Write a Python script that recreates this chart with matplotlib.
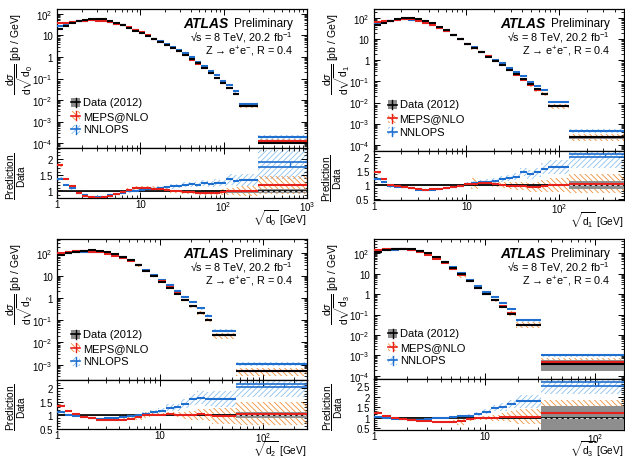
import numpy as np
import matplotlib
matplotlib.use("Agg")
import matplotlib.pyplot as plt
from matplotlib.patches import Rectangle
from matplotlib.lines import Line2D
from matplotlib.ticker import FixedLocator, LogLocator, MultipleLocator, FuncFormatter, NullFormatter

plt.rcParams['font.family'] = ['Liberation Sans', 'DejaVu Sans']
plt.rcParams['mathtext.fontset'] = 'custom'
plt.rcParams['mathtext.rm'] = 'Liberation Sans'
plt.rcParams['mathtext.it'] = 'Liberation Sans:italic'
plt.rcParams['mathtext.bf'] = 'Liberation Sans:bold'
plt.rcParams['hatch.linewidth'] = 0.6

# ---------------- sqrt(d0) ----------------
D0_EDGES = [1, 1.19, 1.41, 1.68, 2, 2.38, 2.83, 3.36, 4, 4.76, 5.66, 6.73, 8, 9.51, 11.3, 13.5,
            16, 19, 22.6, 26.9, 32, 38.1, 45.3, 53.8, 64, 76.1, 90.5, 108, 128, 152, 256, 1000]
D0_DATA = [20, 28, 37, 47, 55, 60, 61, 57, 49, 39, 31, 22.5, 17, 12.6, 9.1, 6.6, 4.8, 3.6, 2.6,
           1.9, 1.28, 0.78, 0.5, 0.31, 0.19, 0.11, 0.063, 0.036, 0.019, 0.005, 1.0e-4]
D0_MEPS_RATIO = [1.8, 1.38, 1.17, 0.95, 0.87, 0.83, 0.81, 0.82, 0.86, 0.92, 0.98, 1.05, 1.1, 1.1,
                 1.1, 1.08, 1.07, 1.05, 1.0, 1.0, 0.98, 0.97, 0.96, 0.95, 0.96, 0.96, 0.98, 1.0,
                 1.0, 1.0, 1.2]
D0_NNLOPS_RATIO = [1.38, 1.2, 1.09, 0.95, 0.88, 0.84, 0.82, 0.84, 0.88, 0.92, 0.96, 1.0, 1.02,
                   1.05, 1.07, 1.08, 1.1, 1.12, 1.15, 1.17, 1.2, 1.22, 1.2, 1.25, 1.22, 1.27,
                   1.25, 1.37, 1.33, 1.35, 1.82]
D0_DATA_UNC = [0.03, 0.025, 0.02, 0.02, 0.02, 0.02, 0.02, 0.02, 0.02, 0.02, 0.02, 0.02, 0.02,
               0.02, 0.02, 0.02, 0.02, 0.02, 0.02, 0.02, 0.025, 0.025, 0.025, 0.03, 0.03, 0.03,
               0.03, 0.035, 0.035, 0.04, 0.06]
D0_MEPS_UNC = [0.05, 0.04, 0.04, 0.03, 0.03, 0.03, 0.03, 0.03, 0.03, 0.03, 0.04, 0.04, 0.05,
               0.06, 0.08, 0.07, 0.05, 0.05, 0.05, 0.05, 0.05, 0.06, 0.06, 0.07, 0.07, 0.08,
               0.08, 0.1, 0.12, 0.15, 0.27]
D0_NNLOPS_UNC = [0.05, 0.04, 0.04, 0.03, 0.03, 0.03, 0.03, 0.03, 0.03, 0.04, 0.04, 0.04, 0.05,
                 0.05, 0.05, 0.06, 0.06, 0.06, 0.07, 0.07, 0.08, 0.08, 0.08, 0.09, 0.09, 0.1,
                 0.1, 0.17, 0.17, 0.18, 0.45]
D0_NNLOPS_LAST_STAT = 0.065

# ---------------- sqrt(d1) ----------------
D1_EDGES = [1, 1.19, 1.41, 1.68, 2, 2.38, 2.83, 3.36, 4, 4.76, 5.66, 6.73, 8, 9.51, 11.3, 13.5,
            16, 19, 22.6, 26.9, 32, 38.1, 45.3, 53.8, 64, 76.1, 128, 500]
D1_DATA = [48, 62, 78, 92, 100, 100, 90, 72, 58, 40, 28, 16.6, 10.5, 6.2, 3.9, 2.4, 1.5, 0.9,
           0.6, 0.36, 0.22, 0.13, 0.072, 0.042, 0.026, 0.0065, 2.2e-4]
D1_MEPS_RATIO = [1.45, 1.22, 1.0, 0.96, 0.93, 0.9, 0.86, 0.84, 0.85, 0.87, 0.9, 0.94, 0.98, 1.02,
                 1.05, 1.07, 1.07, 1.04, 1.0, 0.97, 0.96, 0.95, 0.92, 0.93, 0.96, 1.0, 1.05]
D1_NNLOPS_RATIO = [1.2, 1.1, 0.95, 0.93, 0.92, 0.88, 0.84, 0.82, 0.83, 0.86, 0.9, 0.94, 0.98,
                   1.03, 1.07, 1.1, 1.12, 1.15, 1.2, 1.25, 1.3, 1.45, 1.38, 1.45, 1.58, 1.65, 2.05]
D1_DATA_UNC = [0.03, 0.025, 0.02, 0.02, 0.02, 0.02, 0.02, 0.02, 0.02, 0.02, 0.02, 0.02, 0.02,
               0.02, 0.02, 0.02, 0.025, 0.025, 0.025, 0.03, 0.03, 0.03, 0.035, 0.035, 0.04,
               0.05, 0.13]
D1_MEPS_UNC = [0.05, 0.04, 0.04, 0.03, 0.03, 0.03, 0.03, 0.03, 0.03, 0.03, 0.04, 0.04, 0.05,
               0.06, 0.2, 0.08, 0.08, 0.1, 0.12, 0.12, 0.13, 0.14, 0.15, 0.16, 0.2, 0.25, 0.35]
D1_NNLOPS_UNC = [0.05, 0.04, 0.04, 0.03, 0.03, 0.03, 0.03, 0.03, 0.03, 0.04, 0.04, 0.04, 0.05,
                 0.06, 0.07, 0.08, 0.09, 0.1, 0.11, 0.12, 0.13, 0.14, 0.15, 0.16, 0.2, 0.25, 0.45]
D1_NNLOPS_LAST_STAT = 0.05

# ---------------- sqrt(d2) ----------------
D2_EDGES = [1, 1.19, 1.41, 1.68, 2, 2.38, 2.83, 3.36, 4, 4.76, 5.66, 6.73, 8, 9.51, 11.3, 13.5,
            16, 19, 22.6, 26.9, 32, 53.8, 265]
D2_DATA = [80, 98, 115, 128, 133, 130, 115, 95, 70, 50, 31, 16.5, 9.5, 5.3, 2.9, 1.55, 0.8, 0.42,
           0.21, 0.1, 0.021, 5.0e-4]
D2_MEPS_RATIO = [1.35, 1.15, 1.05, 0.95, 0.88, 0.84, 0.82, 0.82, 0.84, 0.87, 0.93, 1.0, 1.02,
                 1.02, 1.05, 1.02, 1.0, 1.0, 1.03, 1.0, 0.98, 1.05]
D2_NNLOPS_RATIO = [1.1, 1.02, 0.97, 0.92, 0.9, 0.87, 0.88, 0.9, 0.93, 0.96, 1.0, 1.05, 1.1, 1.17,
                   1.28, 1.3, 1.42, 1.58, 1.65, 1.6, 1.6, 2.1]
D2_DATA_UNC = [0.03, 0.025, 0.02, 0.02, 0.02, 0.02, 0.02, 0.02, 0.02, 0.02, 0.02, 0.02, 0.02,
               0.025, 0.025, 0.03, 0.03, 0.035, 0.035, 0.04, 0.05, 0.1]
D2_MEPS_UNC = [0.05, 0.04, 0.04, 0.03, 0.03, 0.03, 0.03, 0.03, 0.04, 0.06, 0.12, 0.1, 0.06, 0.06,
               0.08, 0.1, 0.13, 0.16, 0.2, 0.22, 0.3, 0.42]
D2_NNLOPS_UNC = [0.05, 0.04, 0.04, 0.03, 0.03, 0.03, 0.03, 0.04, 0.04, 0.05, 0.06, 0.07, 0.08,
                 0.1, 0.12, 0.13, 0.16, 0.2, 0.24, 0.26, 0.28, 0.42]
D2_NNLOPS_LAST_STAT = 0.05

# ---------------- sqrt(d3) ----------------
D3_EDGES = [1, 1.19, 1.41, 1.68, 2, 2.38, 2.83, 3.36, 4, 4.76, 5.66, 6.73, 8, 9.51, 11.3, 13.5,
            16, 19, 32, 181]
D3_DATA = [115, 140, 160, 170, 157, 135, 100, 64, 39, 20, 9.6, 4.5, 2.1, 1.0, 0.5, 0.24, 0.11,
           0.03, 3.9e-4]
D3_MEPS_RATIO = [1.25, 1.1, 0.97, 0.93, 0.9, 0.87, 0.85, 0.82, 0.81, 0.82, 0.86, 0.95, 0.97, 1.0,
                 1.0, 1.05, 1.05, 1.05, 1.25]
D3_NNLOPS_RATIO = [1.05, 0.98, 0.95, 0.93, 0.92, 0.92, 0.94, 0.97, 1.0, 1.05, 1.07, 1.1, 1.18,
                   1.28, 1.45, 1.5, 1.65, 1.78, 2.6]
D3_DATA_UNC = [0.03, 0.025, 0.02, 0.02, 0.02, 0.02, 0.02, 0.02, 0.02, 0.02, 0.02, 0.025, 0.025,
               0.03, 0.03, 0.035, 0.04, 0.06, 0.55]
D3_MEPS_UNC = [0.05, 0.04, 0.04, 0.03, 0.03, 0.03, 0.03, 0.03, 0.04, 0.06, 0.2, 0.08, 0.08, 0.1,
               0.15, 0.2, 0.25, 0.35, 0.6]
D3_NNLOPS_UNC = [0.05, 0.04, 0.04, 0.03, 0.03, 0.03, 0.03, 0.04, 0.04, 0.05, 0.06, 0.07, 0.1,
                 0.12, 0.15, 0.18, 0.2, 0.3, 0.5]
D3_NNLOPS_LAST_STAT = 0.08

LEGEND_LABELS = ["Data (2012)", "MEPS@NLO", "NNLOPS"]

# colours
C_DATA_BAND = "#8e8e8e"
C_MEPS = "#e8201c"
C_MEPS_BAND = "#f0903a"
C_NN = "#1f6fd0"
C_NN_BAND = "#8cc0ee"
HATCH_MEPS = "\\\\\\\\\\\\"
HATCH_NN = "//////"

W, H = 625, 460
fig = plt.figure(figsize=(W / 100, H / 100), dpi=100)


def rect(x0, y0, x1, y1):
    """Figure rectangle from pixel coordinates (y measured from the top)."""
    return [x0 / W, 1 - y1 / H, (x1 - x0) / W, (y1 - y0) / H]


def ftext(x, y, s, **kw):
    return fig.text(x / W, 1 - y / H, s, **kw)


panels = [
    dict(k=0, edges=D0_EDGES, data=D0_DATA, rm=D0_MEPS_RATIO, rn=D0_NNLOPS_RATIO,
         ud=D0_DATA_UNC, um=D0_MEPS_UNC, un=D0_NNLOPS_UNC, stat=D0_NNLOPS_LAST_STAT,
         x0=57, x1=307, top=10, mid=149, bot=199, xmax=1000,
         ylog=(-4.23, 2.23), rlim=(0.8, 2.32)),
    dict(k=1, edges=D1_EDGES, data=D1_DATA, rm=D1_MEPS_RATIO, rn=D1_NNLOPS_RATIO,
         ud=D1_DATA_UNC, um=D1_MEPS_UNC, un=D1_NNLOPS_UNC, stat=D1_NNLOPS_LAST_STAT,
         x0=373.5, x1=624, top=9.5, mid=151.5, bot=201, xmax=500,
         ylog=(-4.28, 2.47), rlim=(0.47, 2.22)),
    dict(k=2, edges=D2_EDGES, data=D2_DATA, rm=D2_MEPS_RATIO, rn=D2_NNLOPS_RATIO,
         ud=D2_DATA_UNC, um=D2_MEPS_UNC, un=D2_NNLOPS_UNC, stat=D2_NNLOPS_LAST_STAT,
         x0=57, x1=307, top=240, mid=381, bot=430, xmax=265,
         ylog=(-3.69, 2.64), rlim=(0.49, 2.3)),
    dict(k=3, edges=D3_EDGES, data=D3_DATA, rm=D3_MEPS_RATIO, rn=D3_NNLOPS_RATIO,
         ud=D3_DATA_UNC, um=D3_MEPS_UNC, un=D3_NNLOPS_UNC, stat=D3_NNLOPS_LAST_STAT,
         x0=374, x1=624, top=240, mid=380, bot=430.5, xmax=181,
         ylog=(-4.16, 2.7), rlim=(0.45, 2.83)),
]

TICK_FS = 7


def pow_label(v, _pos=None):
    if v <= 0:
        return ""
    e = int(round(np.log10(v)))
    if e == 0:
        return "1"
    if e == 1:
        return "10"
    return r"$10^{%d}$" % e


def style_axes(ax, xmax):
    ax.set_xscale("log")
    for sp in ax.spines.values():
        sp.set_linewidth(0.9)
    ax.tick_params(which="both", direction="in", top=True, right=True, labelsize=TICK_FS)
    ax.tick_params(which="major", length=4.2, width=0.7, pad=3)
    ax.tick_params(which="minor", length=2.3, width=0.6)
    ax.tick_params(axis="x", which="major", pad=1)
    ax.xaxis.set_major_locator(FixedLocator([v for v in (1, 10, 100, 1000) if v <= xmax]))
    ax.xaxis.set_minor_locator(LogLocator(base=10, subs=np.arange(2, 10) * 1.0, numticks=50))


def bands(ax, lo, hi, ylo, yhi, kind, color, z):
    width = hi - lo
    if kind == "fill":
        ax.bar(lo, yhi - ylo, width=width, bottom=ylo, align="edge", color=color,
               edgecolor="none", linewidth=0, zorder=z)
    else:
        ax.bar(lo, yhi - ylo, width=width, bottom=ylo, align="edge", facecolor="none",
               edgecolor=color, hatch=kind, linewidth=0, zorder=z)


for p in panels:
    k = p["k"]
    edges = np.asarray(p["edges"], float)
    lo, hi = edges[:-1], edges[1:]
    data = np.asarray(p["data"], float)
    rm = np.asarray(p["rm"], float)
    rn = np.asarray(p["rn"], float)
    ud = np.asarray(p["ud"], float)
    um = np.asarray(p["um"], float)
    un = np.asarray(p["un"], float)

    axm = fig.add_axes(rect(p["x0"], p["top"], p["x1"], p["mid"]))
    axr = fig.add_axes(rect(p["x0"], p["mid"], p["x1"], p["bot"]))
    for ax in (axm, axr):
        style_axes(ax, p["xmax"])
        ax.set_xlim(1, p["xmax"])

    # ---- spectrum panel ----
    axm.set_yscale("log")
    ylo_e, yhi_e = p["ylog"]
    axm.set_ylim(10 ** ylo_e, 10 ** yhi_e)
    bands(axm, lo, hi, data * (rn - un), data * (rn + un), HATCH_NN, C_NN_BAND, 1)
    bands(axm, lo, hi, data * (rm - um), data * (rm + um), HATCH_MEPS, C_MEPS_BAND, 2)
    bands(axm, lo, hi, data * (1 - ud), data * (1 + ud), "fill", C_DATA_BAND, 3)
    axm.hlines(data * rn, lo, hi, colors=C_NN, lw=1.5, zorder=5)
    axm.hlines(data * rm, lo, hi, colors=C_MEPS, lw=1.5, zorder=6)
    axm.hlines(data, lo, hi, colors="k", lw=1.5, zorder=7)
    decades = [10.0 ** e for e in range(int(np.ceil(ylo_e)), int(np.floor(yhi_e)) + 1)]
    axm.yaxis.set_major_locator(FixedLocator(decades))
    axm.yaxis.set_major_formatter(FuncFormatter(pow_label))
    axm.yaxis.set_minor_locator(LogLocator(base=10, subs=np.arange(2, 10) * 1.0, numticks=50))
    axm.yaxis.set_minor_formatter(NullFormatter())
    axm.xaxis.set_major_formatter(NullFormatter())
    axm.xaxis.set_minor_formatter(NullFormatter())

    # ---- ratio panel ----
    r0, r1 = p["rlim"]
    axr.set_ylim(r0, r1)
    bands(axr, lo, hi, rn - un, rn + un, HATCH_NN, C_NN_BAND, 1)
    bands(axr, lo, hi, rm - um, rm + um, HATCH_MEPS, C_MEPS_BAND, 2)
    bands(axr, lo, hi, 1 - ud, 1 + ud, "fill", C_DATA_BAND, 3)
    axr.axhline(1.0, color="k", lw=1.2, zorder=4)
    axr.hlines(rn[:-1], lo[:-1], hi[:-1], colors=C_NN, lw=1.5, zorder=5)
    s = p["stat"]
    axr.hlines([rn[-1] - s, rn[-1] + s], lo[-1], hi[-1], colors=C_NN, lw=1.2, zorder=5)
    xc = 0.5 * (lo[-1] + hi[-1])
    axr.vlines(xc, rn[-1] - s, rn[-1] + s, colors=C_NN, lw=0.9, zorder=5)
    axr.hlines(rm, lo, hi, colors=C_MEPS, lw=1.5, zorder=6)
    axr.hlines(1.0, lo[-1], hi[-1], colors="#d0d0d0", linestyles=(0, (3, 2)), lw=0.8, zorder=8)
    rticks = [v for v in (0.5, 1.0, 1.5, 2.0, 2.5) if r0 <= v <= r1]
    axr.yaxis.set_major_locator(FixedLocator(rticks))
    axr.yaxis.set_minor_locator(MultipleLocator(0.1))
    axr.yaxis.set_major_formatter(FuncFormatter(lambda v, _p: f"{v:g}"))
    axr.xaxis.set_major_formatter(FuncFormatter(pow_label))
    axr.xaxis.set_minor_formatter(NullFormatter())

    # ---- axis titles ----
    ftext(p["x0"] - 37, p["top"] + 3,
          r"$\dfrac{\mathrm{d}\sigma}{\mathrm{d}\sqrt{\mathrm{d}_{%d}}}$ [pb / GeV]" % k,
          rotation=90, ha="center", va="top", fontsize=7.5)
    ftext(p["x0"] - 41, 0.5 * (p["mid"] + p["bot"]) + 2,
          r"$\dfrac{\mathrm{Prediction}}{\mathrm{Data}}$",
          rotation=90, ha="center", va="center", fontsize=7.3)
    ftext(p["x1"], min(p["bot"] + 29, H - 0.5), r"$\sqrt{\mathrm{d}_{%d}}$ [GeV]" % k,
          ha="right", va="bottom", fontsize=7.3)

    # ---- labels ----
    ftext(p["x1"] - 124, p["top"] + 14, "ATLAS", fontsize=10, fontweight="bold",
          fontstyle="italic", ha="left", va="center")
    ftext(p["x1"] - 14, p["top"] + 14, "Preliminary", fontsize=8.5, ha="right", va="center")
    ftext(p["x1"] - 14, p["top"] + 28, r"√s = 8 TeV, 20.2 fb$^{-1}$", fontsize=7.8,
          ha="right", va="center")
    ftext(p["x1"] - 14, p["top"] + 42, r"Z → e$^{+}$e$^{-}$, R = 0.4", fontsize=7.8,
          ha="right", va="center")

    # ---- legend ----
    entries = [("fill", C_DATA_BAND, "k"),
               (HATCH_MEPS, C_MEPS_BAND, C_MEPS),
               (HATCH_NN, C_NN_BAND, C_NN)]
    for j, (label, (kind, bcol, lcol)) in enumerate(zip(LEGEND_LABELS, entries)):
        yc = p["mid"] - 46 + 13.7 * j
        bx0 = p["x0"] + 14
        bw, bh = 9, 9
        if kind == "fill":
            patch = Rectangle((bx0 / W, 1 - (yc + bh / 2) / H), bw / W, bh / H,
                              transform=fig.transFigure, facecolor=bcol, edgecolor="none")
        else:
            patch = Rectangle((bx0 / W, 1 - (yc + bh / 2) / H), bw / W, bh / H,
                              transform=fig.transFigure, facecolor="none", edgecolor=bcol,
                              hatch=kind, linewidth=0)
        fig.add_artist(patch)
        fig.add_artist(Line2D([bx0 / W, (bx0 + bw) / W], [1 - yc / H, 1 - yc / H],
                              transform=fig.transFigure, color=lcol, lw=1.2))
        fig.add_artist(Line2D([(bx0 + bw / 2) / W] * 2,
                              [1 - (yc - bh / 2) / H, 1 - (yc + bh / 2) / H],
                              transform=fig.transFigure, color=lcol, lw=1.0))
        ftext(bx0 + 12, yc, label, fontsize=8, ha="left", va="center")

fig.savefig("out.png", dpi=100)
